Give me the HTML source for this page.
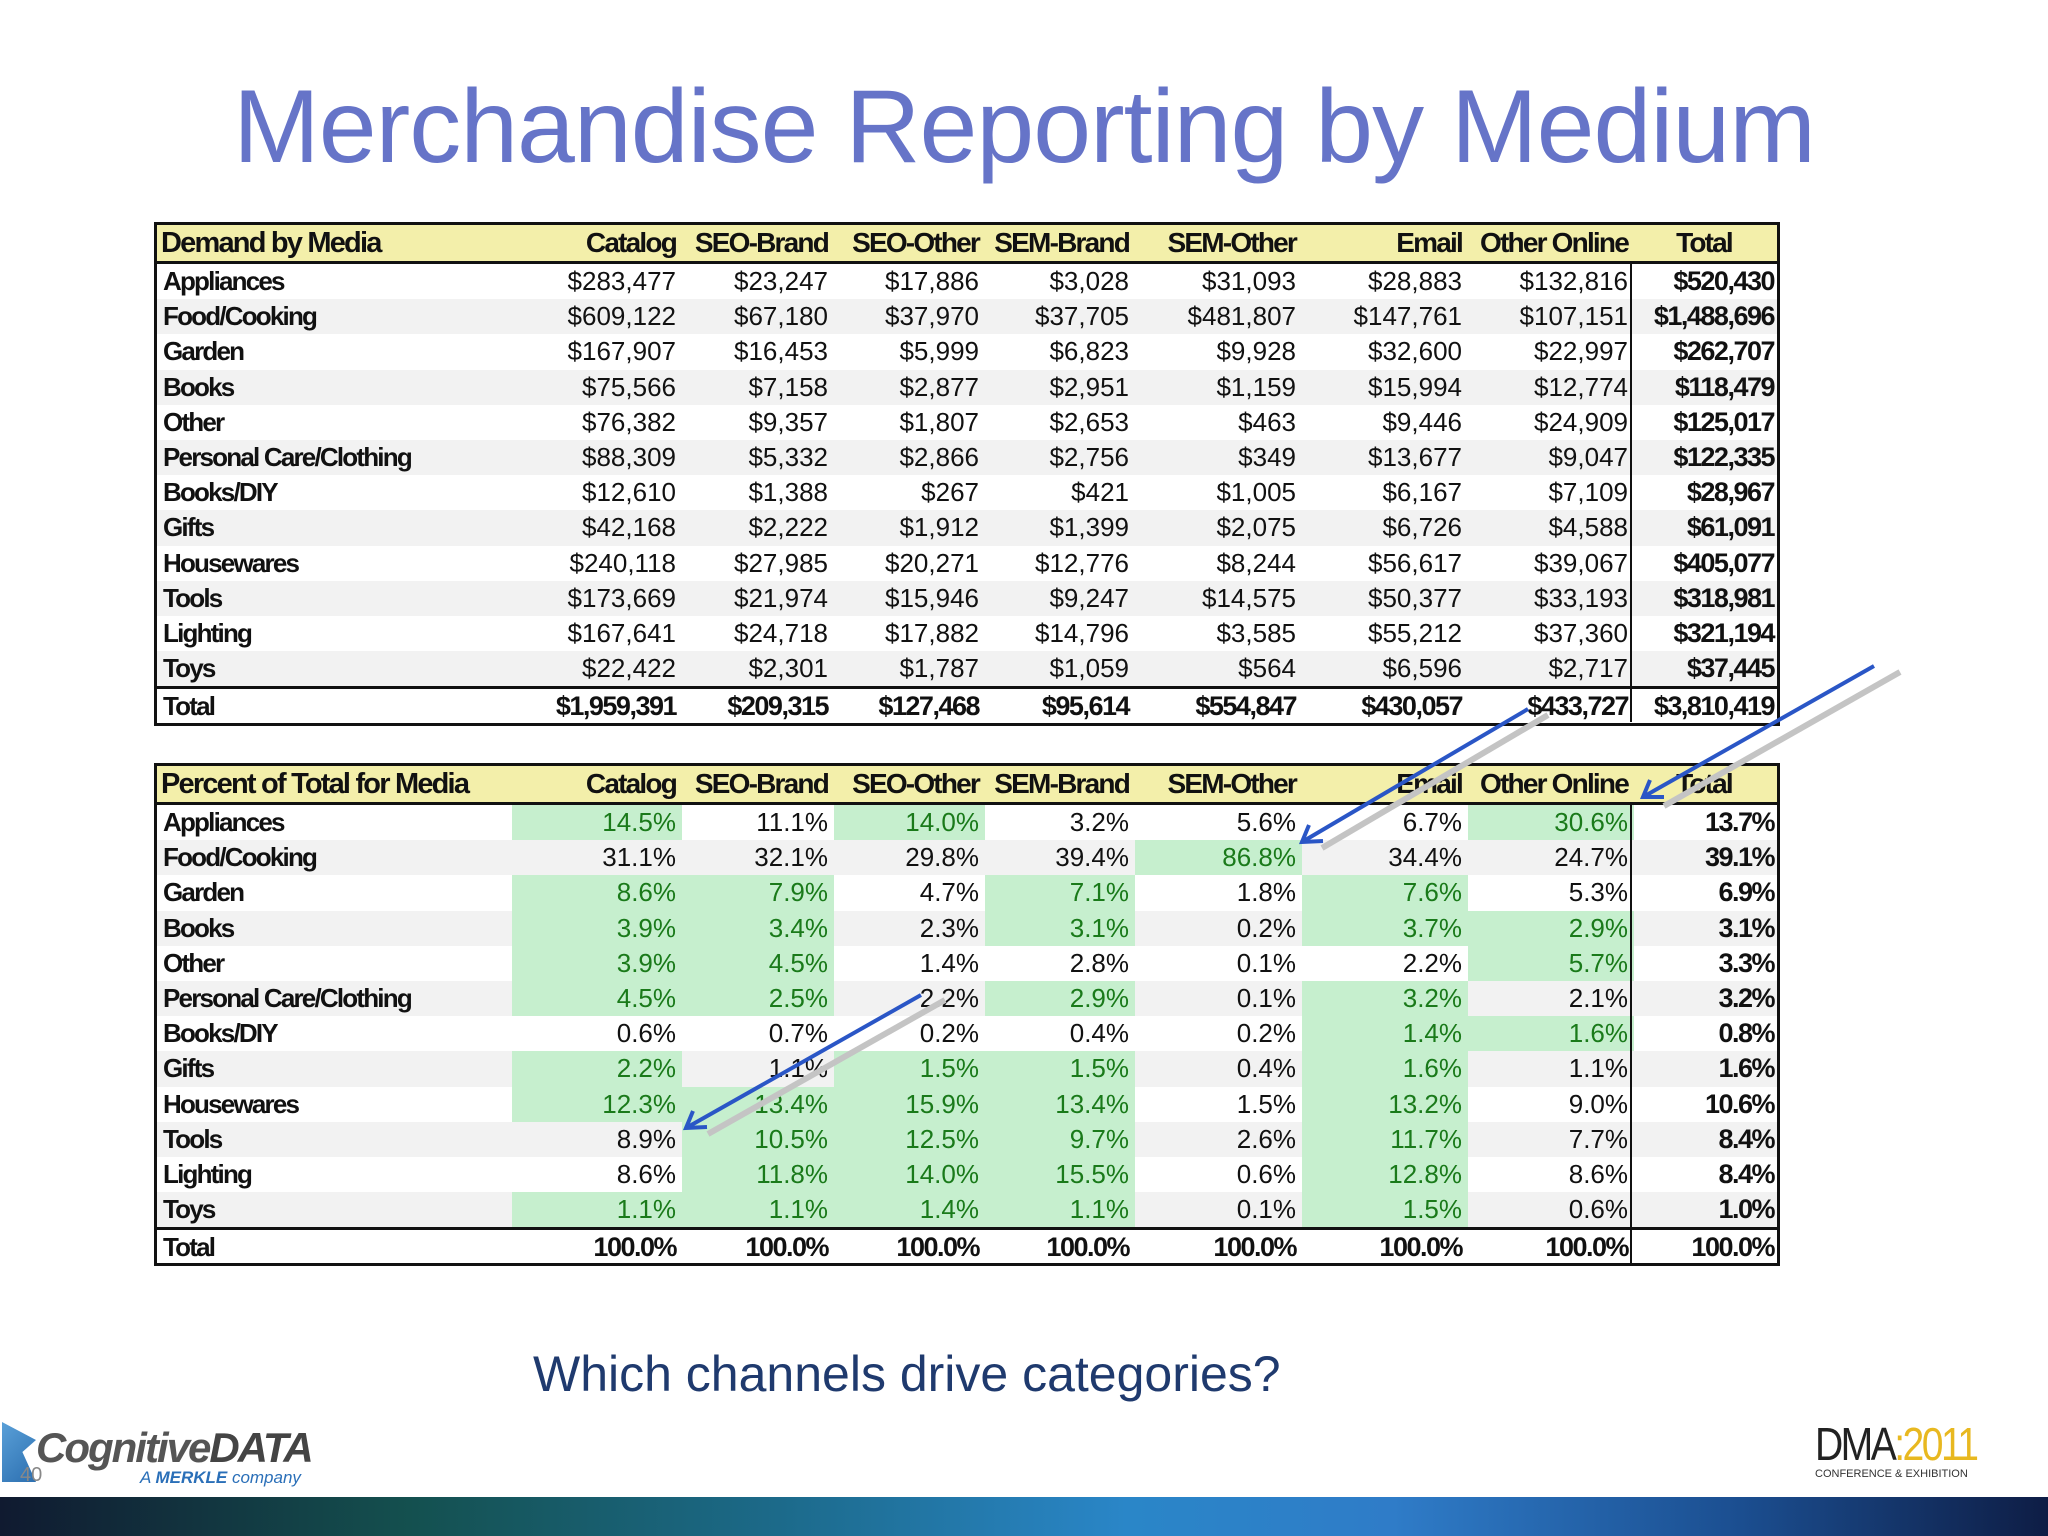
<!DOCTYPE html>
<html><head><meta charset="utf-8">
<style>
body{margin:0;width:2048px;height:1536px;position:relative;background:#fff;overflow:hidden;font-family:"Liberation Sans",sans-serif}
.title{position:absolute;left:0;width:2048px;top:68px;text-align:center;font-size:104px;color:#6674c8;letter-spacing:-1px}
.sub{position:absolute;left:533px;top:1345px;font-size:50px;color:#1f3a6e}
.tbl{position:absolute;left:154px;width:1626px;border:3px solid #111;box-sizing:border-box}
.row{position:absolute;left:0;width:1620px;height:35.2px}
.c{position:absolute;top:0;height:100%;line-height:35.2px;font-size:26px;white-space:nowrap;color:#111}
.lbl{font-weight:bold;letter-spacing:-1.8px;left:6px}
.hd{font-weight:bold;letter-spacing:-1.8px;font-size:28px}
.num{text-align:right}
.b{font-weight:bold;letter-spacing:-1.5px;font-size:27px}
.band{position:absolute;left:0;top:1497px;width:2048px;height:39px;background:linear-gradient(90deg,#101a30 0%,#14504f 20%,#1c6a8a 38%,#2a86c8 55%,#2f7cc8 68%,#1b4e90 85%,#0e1d45 100%)}
</style></head><body>
<div class="title">Merchandise Reporting by Medium</div>
<div id="t1" class="tbl" style="top:222px;height:504px"></div>
<div id="t2" class="tbl" style="top:763px;height:503px"></div>
<div class="sub">Which channels drive categories?</div>
<svg width="2048" height="1536" style="position:absolute;left:0;top:0">
<g stroke="#c4c4c4" stroke-width="6" fill="none"><line x1="1900" y1="672" x2="1664" y2="806"/><line x1="1548" y1="715" x2="1322" y2="848"/><line x1="945" y1="1000" x2="708" y2="1134"/></g>
<g stroke="#2a56c6" stroke-width="4" fill="none"><line x1="1874" y1="666" x2="1643" y2="797"/><polyline points="1650,780 1643,797 1664,797"/>
<line x1="1528" y1="709" x2="1302" y2="842"/><polyline points="1309,825 1302,842 1323,841"/>
<line x1="921" y1="995" x2="686" y2="1128"/><polyline points="693,1111 686,1128 707,1127"/></g>
</svg>
<div style="position:absolute;left:2px;top:1420px;width:360px;height:64px">
<div style="position:absolute;left:0;top:2px;width:34px;height:60px;background:linear-gradient(135deg,#5aa0d8,#2c6fb0);clip-path:polygon(0 0,100% 30%,60% 50%,100% 100%,0 100%)"></div>
<div style="position:absolute;left:34px;top:4px;font-size:42px;font-weight:bold;font-style:italic;color:#555;letter-spacing:-2px">Cognitive<span style="color:#444">DATA</span></div>
<div style="position:absolute;left:138px;top:48px;font-size:17px;color:#2a6fb8;font-style:italic">A <b>MERKLE</b> company</div>
<div style="position:absolute;left:18px;top:44px;font-size:20px;color:#888">40</div>
</div>
<div style="position:absolute;left:1815px;top:1420px;width:200px;height:60px">
<div style="font-size:46px;color:#222;letter-spacing:-3px;line-height:48px;transform:scaleX(0.85);transform-origin:left">DMA<span style="color:#e8b820">:2011</span></div>
<div style="font-size:11px;color:#333">CONFERENCE &amp; EXHIBITION</div>
</div>
<div class="band"></div>
<script>
const cats=["Appliances","Food/Cooking","Garden","Books","Other","Personal Care/Clothing","Books/DIY","Gifts","Housewares","Tools","Lighting","Toys"];
const media=["Catalog","SEO-Brand","SEO-Other","SEM-Brand","SEM-Other","Email","Other Online","Total"];
const demand=[
[283477,23247,17886,3028,31093,28883,132816,520430],
[609122,67180,37970,37705,481807,147761,107151,1488696],
[167907,16453,5999,6823,9928,32600,22997,262707],
[75566,7158,2877,2951,1159,15994,12774,118479],
[76382,9357,1807,2653,463,9446,24909,125017],
[88309,5332,2866,2756,349,13677,9047,122335],
[12610,1388,267,421,1005,6167,7109,28967],
[42168,2222,1912,1399,2075,6726,4588,61091],
[240118,27985,20271,12776,8244,56617,39067,405077],
[173669,21974,15946,9247,14575,50377,33193,318981],
[167641,24718,17882,14796,3585,55212,37360,321194],
[22422,2301,1787,1059,564,6596,2717,37445]];
const demandTotal=[1959391,209315,127468,95614,554847,430057,433727,3810419];
const pct=[
[14.5,11.1,14.0,3.2,5.6,6.7,30.6,13.7],
[31.1,32.1,29.8,39.4,86.8,34.4,24.7,39.1],
[8.6,7.9,4.7,7.1,1.8,7.6,5.3,6.9],
[3.9,3.4,2.3,3.1,0.2,3.7,2.9,3.1],
[3.9,4.5,1.4,2.8,0.1,2.2,5.7,3.3],
[4.5,2.5,2.2,2.9,0.1,3.2,2.1,3.2],
[0.6,0.7,0.2,0.4,0.2,1.4,1.6,0.8],
[2.2,1.1,1.5,1.5,0.4,1.6,1.1,1.6],
[12.3,13.4,15.9,13.4,1.5,13.2,9.0,10.6],
[8.9,10.5,12.5,9.7,2.6,11.7,7.7,8.4],
[8.6,11.8,14.0,15.5,0.6,12.8,8.6,8.4],
[1.1,1.1,1.4,1.1,0.1,1.5,0.6,1.0]];
const hi=[
[1,0,1,0,0,0,1],[0,0,0,0,1,0,0],[1,1,0,1,0,1,0],[1,1,0,1,0,1,1],[1,1,0,0,0,0,1],[1,1,0,1,0,1,0],
[0,0,0,0,0,1,1],[1,0,1,1,0,1,0],[1,1,1,1,0,1,0],[0,1,1,1,0,1,0],[0,1,1,1,0,1,0],[1,1,1,1,0,1,0]];
const colL=[355,525,677,828,978,1145,1311,1477];
const colR=[525,677,828,978,1145,1311,1477,1623];
const fmt=v=>"$"+v.toLocaleString("en-US");
function mk(parent,cls,txt,style){const d=document.createElement("div");d.className=cls;if(txt!==null)d.textContent=txt;if(style)d.style.cssText=style;parent.appendChild(d);return d;}
function build(id,title,rows,totals,isPct){
 const t=document.getElementById(id);
 const H=35.2, hh=36;
 const hr=mk(t,"row",null,"top:0;height:"+hh+"px;background:#f3efaa;border-bottom:3px solid #111");
 
 
 const tl=mk(hr,"c hd",title,"left:4px;line-height:"+hh+"px;font-size:29px");
 
 
 media.forEach((m,j)=>{const h=mk(hr,"c hd",m,"left:"+colL[j]+"px;width:"+(colR[j]-colL[j]-6)+"px;text-align:"+(j==7?"center":"right")+";line-height:"+hh+"px");
  
  });
 const all=rows.concat([totals]);
 all.forEach((r,i)=>{
  const isT=i==rows.length;
  const top=hh+3+i*H;
  const rw=mk(t,"row",null,"top:"+top+"px;background:"+(isT?"#fff":(i%2?"#f2f2f2":"#fff"))+(isT?";border-top:3px solid #111;height:"+(H-3)+"px":""));
  
  
  const l=mk(rw,"c lbl",isT?"Total":cats[i]);
  
  
  r.forEach((v,j)=>{
   const g=isPct&&!isT&&j<7&&hi[i][j];
   if(g){const bg=mk(rw,"c",null,"left:"+colL[j]+"px;width:"+(colR[j]-colL[j])+"px;background:#c6efce");
    
    }
   const bold=isT||j==7;
   const c=mk(rw,"c num"+(bold?" b":""),isPct?v.toFixed(1)+"%":fmt(v),"left:"+colL[j]+"px;width:"+(colR[j]-colL[j]-6)+"px;color:"+(g?"#1a7a1a":"#111"));
   
   
  });
 });
 const sep=mk(t,"c",null,"left:"+(colL[7]-4)+"px;width:0;border-left:2px solid #111;top:"+(hh+3)+"px;height:"+(all.length*H)+"px");
 
 
}
build("t1","Demand by Media",demand,demandTotal,false);
build("t2","Percent of Total for Media",pct,[100,100,100,100,100,100,100,100],true);
</script>
</body></html>
